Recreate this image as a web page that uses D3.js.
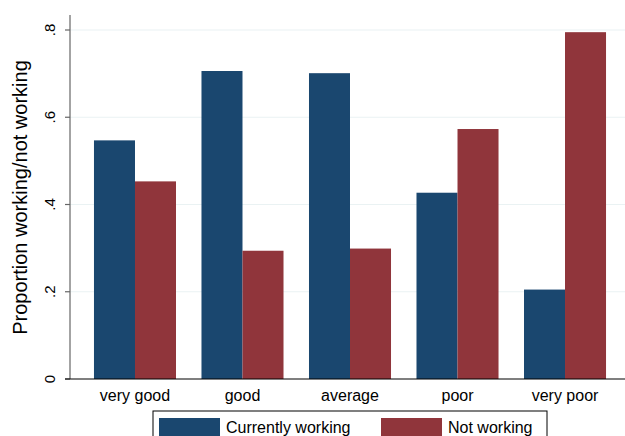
<!DOCTYPE html>
<html>
<head>
<meta charset="utf-8">
<script src="https://cdn.jsdelivr.net/npm/d3@7"></script>
<style>
  body { margin: 0; background: #fff; }
  text { font-family: "Liberation Sans", Arial, Helvetica, sans-serif; fill: #000; }
</style>
</head>
<body>
<div class="container"></div>
<script>
const categories = ["very good", "good", "average", "poor", "very poor"];
const working = [0.547, 0.706, 0.701, 0.427, 0.205];
const notWorking = [0.453, 0.294, 0.299, 0.573, 0.795];
const seriesNames = ["Currently working", "Not working"];
const yTicks = [0, 0.2, 0.4, 0.6, 0.8];
const yTickLabels = ["0", ".2", ".4", ".6", ".8"];

const colors = ["#1a476f", "#90353b"];
const width = 625, height = 436;
const axisX = 70, baseline = 379;

const data = categories.map((c, i) => ({ cat: c, values: [working[i], notWorking[i]] }));

const svg = d3.select(".container").append("svg")
  .attr("width", width).attr("height", height);

const y = d3.scaleLinear().domain([0, 0.8]).range([baseline, 30]);
const x0 = d3.scaleBand().domain(categories).range([axisX, 630])
  .paddingInner(0.237).paddingOuter(0.223);
const x1 = d3.scaleBand().domain([0, 1]).range([0, x0.bandwidth()]);

// gridlines
svg.selectAll("line.grid")
  .data(yTicks.slice(1))
  .join("line")
  .attr("class", "grid")
  .attr("x1", axisX).attr("x2", width)
  .attr("y1", d => y(d)).attr("y2", d => y(d))
  .attr("stroke", "#eaf2f3").attr("stroke-width", 1.2);

// bars
svg.selectAll("g.group")
  .data(data)
  .join("g")
  .attr("class", "group")
  .attr("transform", d => `translate(${x0(d.cat)},0)`)
  .selectAll("rect")
  .data(d => d.values)
  .join("rect")
  .attr("x", (d, i) => x1(i))
  .attr("width", x1.bandwidth())
  .attr("y", d => y(d))
  .attr("height", d => baseline - y(d))
  .attr("fill", (d, i) => colors[i]);

// y axis
svg.append("line")
  .attr("x1", axisX).attr("x2", axisX)
  .attr("y1", 15).attr("y2", baseline)
  .attr("stroke", "#666").attr("stroke-width", 1.2);

svg.selectAll("line.ytick")
  .data(yTicks)
  .join("line")
  .attr("class", "ytick")
  .attr("x1", axisX - 5).attr("x2", axisX)
  .attr("y1", d => y(d)).attr("y2", d => y(d))
  .attr("stroke", "#666").attr("stroke-width", 1.2);

svg.selectAll("text.ylab")
  .data(yTicks)
  .join("text")
  .attr("class", "ylab")
  .attr("transform", d => `translate(55,${y(d)}) rotate(-90)`)
  .attr("text-anchor", "middle")
  .attr("font-size", 15)
  .text((d, i) => yTickLabels[i]);

svg.append("text")
  .attr("transform", `translate(26.5,197.5) rotate(-90)`)
  .attr("text-anchor", "middle")
  .attr("font-size", 20)
  .text("Proportion working/not working");

// x axis
svg.append("line")
  .attr("x1", axisX - 5).attr("x2", width)
  .attr("y1", baseline).attr("y2", baseline)
  .attr("stroke", "#000").attr("stroke-width", 1.2);

svg.selectAll("text.xlab")
  .data(categories)
  .join("text")
  .attr("class", "xlab")
  .attr("x", d => x0(d) + x0.bandwidth() / 2)
  .attr("y", 401)
  .attr("text-anchor", "middle")
  .attr("font-size", 16)
  .text(d => d);

// legend
const legend = svg.append("g");
legend.append("rect")
  .attr("x", 153).attr("y", 411)
  .attr("width", 394).attr("height", 40)
  .attr("fill", "#fff").attr("stroke", "#000").attr("stroke-width", 1);

const legendX = [159, 381];
seriesNames.forEach((s, i) => {
  legend.append("rect")
    .attr("x", legendX[i]).attr("y", 418)
    .attr("width", 61).attr("height", 30)
    .attr("fill", colors[i]);
  legend.append("text")
    .attr("x", legendX[i] + 67).attr("y", 433)
    .attr("font-size", 16)
    .text(s);
});
</script>
</body>
</html>
